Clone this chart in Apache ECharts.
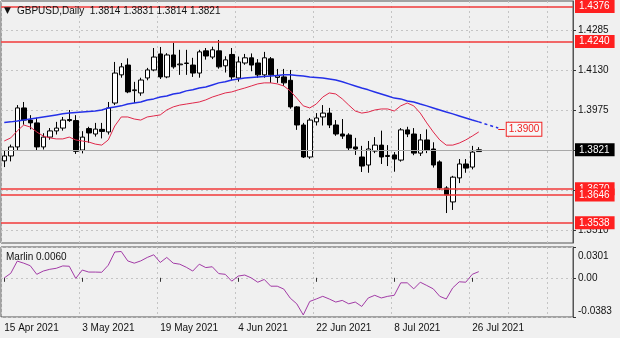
<!DOCTYPE html>
<html>
<head>
<meta charset="utf-8">
<script src="https://cdn.jsdelivr.net/npm/echarts@6/dist/echarts.min.js"></script>
<style>
  html, body { margin: 0; padding: 0; background: #f0f0f0; }
  #chart { width: 620px; height: 338px; }
</style>
</head>
<body>
<div id="chart"></div>
<script>
// GBPUSD daily bars, 15 Apr 2021 - 27 Jul 2021
const opens = [1.3778,1.3797,1.3832,1.3983,1.3936,1.3925,1.3832,1.3870,1.3894,1.3905,
  1.3938,1.3934,1.3820,1.3903,1.3882,1.3900,1.3890,1.4002,1.4111,1.4149,
  1.4050,1.4041,1.4099,1.4130,1.4192,1.4103,1.4188,1.4150,1.4155,1.4149,
  1.4118,1.4204,1.4180,1.4204,1.4146,1.4190,1.4099,1.4157,1.4177,1.4157,
  1.4111,1.4173,1.4101,1.4103,1.4090,1.3987,1.3917,1.3793,1.3929,1.3948,
  1.3963,1.3917,1.3882,1.3878,1.3832,1.3793,1.3762,1.3816,1.3839,1.3795,
  1.3801,1.3781,1.3898,1.3882,1.3808,1.3859,1.3824,1.3774,1.3673,1.3619,
  1.3712,1.3766,1.3754,1.3814];
const highs = [1.3819,1.3841,1.3994,1.4006,1.3955,1.3945,1.3885,1.3905,1.3929,1.3948,
  1.3975,1.3955,1.3893,1.3910,1.3925,1.3925,1.4006,1.4161,1.4157,1.4175,
  1.4084,1.4100,1.4138,1.4215,1.4219,1.4195,1.4235,1.4208,1.4208,1.4177,
  1.4208,1.4215,1.4220,1.4246,1.4183,1.4215,1.4182,1.4192,1.4194,1.4172,
  1.4200,1.4180,1.4134,1.4134,1.4130,1.3990,1.3925,1.3944,1.3963,1.3994,
  1.3983,1.3936,1.3940,1.3885,1.3867,1.3836,1.3855,1.3870,1.3895,1.3839,
  1.3812,1.3905,1.3910,1.3905,1.3882,1.3900,1.3850,1.3780,1.3680,1.3720,
  1.3785,1.3785,1.3836,1.3831];
const lows = [1.3754,1.3776,1.3820,1.3918,1.3900,1.3820,1.3822,1.3860,1.3880,1.3895,
  1.3929,1.3805,1.3807,1.3848,1.3872,1.3865,1.3880,1.3994,1.4100,1.4040,
  1.4002,1.4030,1.4090,1.4125,1.4095,1.4098,1.4135,1.4111,1.4111,1.4103,
  1.4100,1.4170,1.4172,1.4135,1.4120,1.4090,1.4085,1.4150,1.4125,1.4100,
  1.4100,1.4080,1.4080,1.4068,1.3980,1.3898,1.3789,1.3786,1.3915,1.3915,
  1.3905,1.3875,1.3863,1.3820,1.3801,1.3735,1.3732,1.3808,1.3766,1.3758,
  1.3736,1.3775,1.3870,1.3800,1.3797,1.3808,1.3752,1.3665,1.3576,1.3588,
  1.3692,1.3732,1.3745,1.3814];
const closes = [1.3797,1.3832,1.3983,1.3936,1.3925,1.3832,1.3870,1.3894,1.3905,1.3936,
  1.3934,1.3815,1.3870,1.3886,1.3901,1.3892,1.3983,1.4118,1.4142,1.4045,
  1.4053,1.4091,1.4130,1.4180,1.4103,1.4188,1.4142,1.4153,1.4157,1.4118,
  1.4200,1.4184,1.4208,1.4142,1.4169,1.4103,1.4161,1.4177,1.4149,1.4111,
  1.4177,1.4111,1.4107,1.4080,1.3987,1.3917,1.3793,1.3936,1.3944,1.3963,
  1.3917,1.3882,1.3874,1.3828,1.3824,1.3758,1.3824,1.3839,1.3793,1.3799,
  1.3785,1.3898,1.3882,1.3808,1.3859,1.3820,1.3762,1.3673,1.3646,1.3715,
  1.3766,1.3750,1.3812,1.3821];

// Moving averages drawn over the price
const maFast = [1.3855,1.3867,1.3894,1.3917,1.3909,1.3890,1.3874,1.3867,1.3863,1.3863,
  1.3870,1.3859,1.3855,1.3851,1.3843,1.3839,1.3859,1.3913,1.3948,1.3948,
  1.3940,1.3936,1.3948,1.3952,1.3956,1.3975,1.3987,1.3994,1.3998,1.4002,
  1.4006,1.4014,1.4025,1.4033,1.4041,1.4045,1.4053,1.4060,1.4068,1.4076,
  1.4080,1.4080,1.4076,1.4068,1.4049,1.4021,1.3991,1.3983,1.3998,1.4025,
  1.4041,1.4037,1.4018,1.3994,1.3971,1.3963,1.3967,1.3975,1.3979,1.3979,
  1.3971,1.3991,1.4002,1.3991,1.3963,1.3925,1.3890,1.3859,1.3839,1.3839,
  1.3847,1.3859,1.3874,1.3890];
const maSlow = [1.3927,1.3929,1.3932,1.3936,1.3940,1.3944,1.3948,1.3952,1.3956,1.3960,
  1.3963,1.3965,1.3967,1.3969,1.3971,1.3975,1.3983,1.3987,1.3991,1.3998,
  1.4002,1.4006,1.4014,1.4018,1.4025,1.4029,1.4037,1.4041,1.4049,1.4053,
  1.4060,1.4064,1.4072,1.4080,1.4084,1.4091,1.4095,1.4099,1.4101,1.4103,
  1.4105,1.4107,1.4109,1.4111,1.4111,1.4109,1.4107,1.4103,1.4101,1.4099,
  1.4095,1.4091,1.4084,1.4076,1.4068,1.4060,1.4053,1.4045,1.4037,1.4029,
  1.4021,1.4018,1.4010,1.4006,1.3998,1.3991,1.3983,1.3975,1.3967,1.3960,
  1.3952,1.3944,1.3936,1.3929];
// slow average carried forward past the last bar (index 73 onward)
const maSlowAhead = [1.3929,1.3921,1.3913,1.3905];
const targetLevel = 1.3900;

// Marlin oscillator
const marlin = [-0.0001,0.0044,0.0163,0.0143,0.0118,0.0034,0.0066,0.0083,0.0093,0.0116,
  0.0113,-0.0006,0.0076,0.0056,0.0056,0.0054,0.0123,0.0252,0.0257,0.0165,
  0.0143,0.0165,0.0199,0.0225,0.0150,0.0199,0.0143,0.0133,0.0103,0.0066,
  0.0133,0.0100,0.0108,0.0041,0.0034,-0.0033,0.0017,0.0027,-0.0001,-0.0043,
  -0.0016,-0.0082,-0.0082,-0.0110,-0.0199,-0.0254,-0.0363,-0.0231,-0.0207,-0.0181,
  -0.0207,-0.0237,-0.0221,-0.0254,-0.0237,-0.0280,-0.0197,-0.0171,-0.0197,-0.0181,
  -0.0171,-0.0049,-0.0049,-0.0108,-0.0043,-0.0075,-0.0108,-0.0181,-0.0207,-0.0098,
  -0.0039,-0.0043,0.0034,0.0060];

// Horizontal levels and axis marks
const levels = [1.4376, 1.4240, 1.3670, 1.3646, 1.3538];
const lastPrice = 1.3821;
const priceTicks = [1.3510, 1.3665, 1.3820, 1.3975, 1.4130, 1.4285];
const oscTicks = [-0.0383, 0, 0.0301];
const dateTicks = ['15 Apr 2021', '3 May 2021', '19 May 2021', '4 Jun 2021', '22 Jun 2021', '8 Jul 2021', '26 Jul 2021'];
const titleText = 'GBPUSD,Daily  1.3814 1.3831 1.3814 1.3821';
const oscTitle = 'Marlin 0.0060';

// Trading-day calendar (weekdays) starting 15 Apr 2021, with room to the right
const months = ['Jan','Feb','Mar','Apr','May','Jun','Jul','Aug','Sep','Oct','Nov','Dec'];
const days = [];
{
  const d = new Date(Date.UTC(2021, 3, 15));
  while (days.length < 88) {
    const wd = d.getUTCDay();
    if (wd !== 0 && wd !== 6) days.push(d.getUTCDate() + ' ' + months[d.getUTCMonth()] + ' ' + d.getUTCFullYear());
    d.setUTCDate(d.getUTCDate() + 1);
  }
}
const tickIndex = dateTicks.map(t => days.indexOf(t));
const extraGridIndex = [days.length - 10, days.length - 4];
const gridIndex = tickIndex.concat(extraGridIndex);

const candles = opens.map((o, i) => [o, closes[i], lows[i], highs[i]]);
const aheadSeries = days.map((_, i) => (i >= 73 && i - 73 < maSlowAhead.length) ? maSlowAhead[i - 73] : '-');

const FONT = 'Liberation Sans';
const RED = '#f23a3a';
const dash = { color: '#c4c4c4', type: [2, 3], width: 1 };

const levelLines = levels.map(v => ({
  yAxis: v,
  lineStyle: { color: RED, width: 1.6, type: 'solid' },
  label: {
    show: true, position: 'end', distance: 2,
    formatter: () => v.toFixed(4),
    color: '#ffffff', backgroundColor: '#ff2020',
    padding: [2, 5, 1, 4], fontSize: 10, fontFamily: FONT
  }
}));
levelLines.push({
  yAxis: lastPrice,
  lineStyle: { color: '#a8a8a8', width: 1, type: 'solid' },
  label: {
    show: true, position: 'end', distance: 2,
    formatter: () => lastPrice.toFixed(4),
    color: '#ffffff', backgroundColor: '#000000',
    padding: [2, 5, 1, 4], fontSize: 10, fontFamily: FONT
  }
});

const oscMax = oscTicks[oscTicks.length - 1];
const oscMin = oscTicks[0];

const chart = echarts.init(document.getElementById('chart'), null, { renderer: 'canvas' });
chart.setOption({
  animation: false,
  backgroundColor: '#f0f0f0',
  title: [
    { text: '▼', left: 4, top: 6, padding: 0, textStyle: { fontSize: 9, fontWeight: 'normal', color: '#111', fontFamily: 'DejaVu Sans' } },
    { text: titleText, left: 17, top: 6, padding: 0, textStyle: { fontSize: 10, fontWeight: 'normal', color: '#111', fontFamily: FONT } },
    { text: oscTitle, left: 6, top: 252, padding: 0, textStyle: { fontSize: 10, fontWeight: 'normal', color: '#111', fontFamily: FONT } }
  ],
  grid: [
    { left: 1, right: 47, top: 1, height: 242, show: true, borderColor: '#555555', borderWidth: 1 },
    { left: 1, right: 47, top: 247, height: 70, show: true, borderColor: '#555555', borderWidth: 1 }
  ],
  xAxis: [
    {
      type: 'category', gridIndex: 0, data: days, boundaryGap: true,
      axisLine: { show: false }, axisTick: { show: false }, axisLabel: { show: false },
      splitLine: { show: true, interval: (i) => gridIndex.includes(i), lineStyle: dash }
    },
    {
      type: 'category', gridIndex: 1, data: days, boundaryGap: true,
      axisLine: { show: false },
      axisTick: { show: true, alignWithLabel: true, length: 4, interval: (i) => tickIndex.includes(i), lineStyle: { color: '#333' } },
      axisLabel: {
        show: true, interval: (i) => tickIndex.includes(i), align: 'left', margin: 6,
        fontSize: 10, color: '#111', fontFamily: FONT
      },
      splitLine: { show: true, interval: (i) => gridIndex.includes(i), lineStyle: dash }
    }
  ],
  yAxis: [
    {
      type: 'value', gridIndex: 0, position: 'right', min: 1.3460, max: 1.4397,
      axisLine: { show: true, lineStyle: { color: '#555555' } },
      axisTick: { show: true, length: 3, inside: false, customValues: priceTicks, lineStyle: { color: '#333' } },
      axisLabel: { show: true, customValues: priceTicks, formatter: v => v.toFixed(4), margin: 5, fontSize: 10, color: '#111', fontFamily: FONT },
      splitLine: { show: true, lineStyle: dash }
    },
    {
      type: 'value', gridIndex: 1, position: 'right', min: oscMin, max: oscMax,
      axisLine: { show: true, lineStyle: { color: '#555555' } },
      axisTick: { show: true, length: 3, customValues: oscTicks, lineStyle: { color: '#333' } },
      axisLabel: {
        show: true, customValues: oscTicks, margin: 5, fontSize: 10, color: '#111', fontFamily: FONT,
        formatter: v => {
          if (v === 0) return '0.00';
          if (v === oscMax) return '{hi|' + v.toFixed(4) + '}';
          if (v === oscMin) return '{lo|' + v.toFixed(4) + '}';
          return v.toFixed(4);
        },
        rich: {
          hi: { padding: [4, 0, 0, 0], fontSize: 10, color: '#111', fontFamily: FONT },
          lo: { padding: [0, 0, 1, 0], fontSize: 10, color: '#111', fontFamily: FONT }
        },
        verticalAlignMinLabel: 'bottom', verticalAlignMaxLabel: 'top'
      },
      splitLine: { show: true, lineStyle: dash }
    }
  ],
  series: [
    {
      name: 'GBPUSD', type: 'candlestick', xAxisIndex: 0, yAxisIndex: 0,
      data: candles, barWidth: 5,
      itemStyle: { color: '#ffffff', color0: '#000000', borderColor: '#000000', borderColor0: '#000000', borderWidth: 1 },
      markLine: { silent: true, precision: 4, symbol: ['none', 'none'], data: levelLines, z: 3 }
    },
    {
      name: 'MA fast', type: 'line', xAxisIndex: 0, yAxisIndex: 0, data: maFast,
      showSymbol: false, lineStyle: { color: '#e0284a', width: 1 }, z: 4
    },
    {
      name: 'MA slow', type: 'line', xAxisIndex: 0, yAxisIndex: 0, data: maSlow,
      showSymbol: false, lineStyle: { color: '#2430e8', width: 1.5 }, z: 4
    },
    {
      name: 'MA slow ahead', type: 'line', xAxisIndex: 0, yAxisIndex: 0, data: aheadSeries,
      showSymbol: false, lineStyle: { color: '#2430e8', width: 1.5, type: [3, 3] }, z: 4,
      markLine: {
        silent: true, precision: 4, symbol: ['none', 'none'],
        data: [[
          { coord: [76, targetLevel] },
          {
            coord: [77, targetLevel],
            label: {
              show: true, position: 'end', distance: 2,
              formatter: () => targetLevel.toFixed(4),
              color: '#f02020', backgroundColor: '#f7f7f7', borderColor: '#f02020', borderWidth: 1,
              padding: [2, 2, 1, 2], fontSize: 10, fontFamily: FONT
            }
          }
        ]],
        lineStyle: { color: '#f02020', width: 1, type: 'solid' }
      }
    },
    {
      name: 'Marlin', type: 'line', xAxisIndex: 1, yAxisIndex: 1, data: marlin,
      showSymbol: false, lineStyle: { color: '#a23ba6', width: 1 }
    }
  ]
});
</script>
</body>
</html>
